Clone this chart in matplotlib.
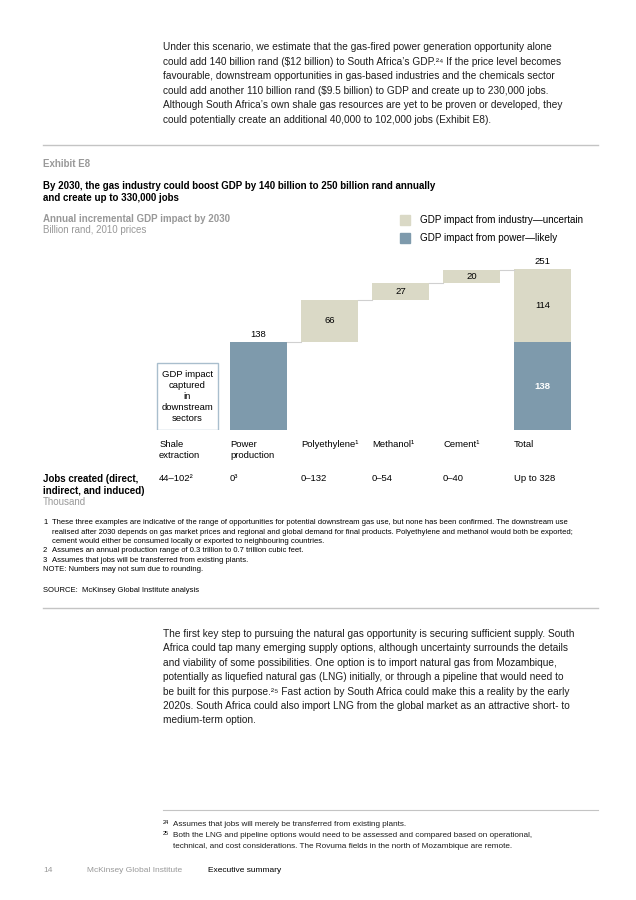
import matplotlib.pyplot as plt
from matplotlib.lines import Line2D
from matplotlib.patches import Rectangle

plt.rcParams['font.family'] = ['Liberation Sans', 'DejaVu Sans']

W, H = 636, 900

# Данные диаграммы (млрд рэндов, цены 2010 г.)
categories = ["Shale\nextraction", "Power\nproduction", "Polyethylene¹", "Methanol¹", "Cement¹", "Total"]
power_gdp = 138
industry_steps = [66, 27, 20]          # Polyethylene, Methanol, Cement
total_power = 138
total_industry = 114
total_gdp = 251
jobs = ["44–102²", "0³", "0–132", "0–54", "0–40", "Up to 328"]

BLUE = "#7E9AAC"
BEIGE = "#DAD9C6"
GREY = "#999999"
LINE = "#C4C4C4"

para1 = [
    "Under this scenario, we estimate that the gas-fired power generation opportunity alone",
    "could add 140 billion rand ($12 billion) to South Africa’s GDP.²⁴ If the price level becomes",
    "favourable, downstream opportunities in gas-based industries and the chemicals sector",
    "could add another 110 billion rand ($9.5 billion) to GDP and create up to 230,000 jobs.",
    "Although South Africa’s own shale gas resources are yet to be proven or developed, they",
    "could potentially create an additional 40,000 to 102,000 jobs (Exhibit E8).",
]
para2 = [
    "The first key step to pursuing the natural gas opportunity is securing sufficient supply. South",
    "Africa could tap many emerging supply options, although uncertainty surrounds the details",
    "and viability of some possibilities. One option is to import natural gas from Mozambique,",
    "potentially as liquefied natural gas (LNG) initially, or through a pipeline that would need to",
    "be built for this purpose.²⁵ Fast action by South Africa could make this a reality by the early",
    "2020s. South Africa could also import LNG from the global market as an attractive short- to",
    "medium-term option.",
]
notes = [
    ("1", "These three examples are indicative of the range of opportunities for potential downstream gas use, but none has been confirmed. The downstream use"),
    ("", "realised after 2030 depends on gas market prices and regional and global demand for final products. Polyethylene and methanol would both be exported;"),
    ("", "cement would either be consumed locally or exported to neighbouring countries."),
    ("2", "Assumes an annual production range of 0.3 trillion to 0.7 trillion cubic feet."),
    ("3", "Assumes that jobs will be transferred from existing plants."),
]
page_notes = [
    ("24", "Assumes that jobs will merely be transferred from existing plants."),
    ("25", "Both the LNG and pipeline options would need to be assessed and compared based on operational,"),
    ("", "technical, and cost considerations. The Rovuma fields in the north of Mozambique are remote."),
]


def fx(x):
    return x / W


def fy(y):
    return 1 - y / H


fig = plt.figure(figsize=(W / 100, H / 100), dpi=100, facecolor="white")


def txt(x, y, s, **kw):
    kw.setdefault("va", "center")
    kw.setdefault("parse_math", False)
    return fig.text(fx(x), fy(y), s, **kw)


def hline(x0, x1, y, color=LINE, lw=1.0):
    fig.add_artist(Line2D([fx(x0), fx(x1)], [fy(y), fy(y)], color=color, lw=lw))


# Текст над графиком
for i, line in enumerate(para1):
    txt(163, 47 + i * 14.6, line, fontsize=7.3, color="#1e1e1e")
hline(43, 598, 145)

txt(43, 164, "Exhibit E8", fontsize=7.0, fontweight="bold", color=GREY)
txt(43, 186, "By 2030, the gas industry could boost GDP by 140 billion to 250 billion rand annually",
    fontsize=7.0, fontweight="bold", color="black")
txt(43, 198, "and create up to 330,000 jobs", fontsize=7.0, fontweight="bold", color="black")
txt(43, 219, "Annual incremental GDP impact by 2030", fontsize=7.0, fontweight="bold", color=GREY)
txt(43, 230, "Billion rand, 2010 prices", fontsize=7.0, color=GREY)

# Легенда
for y, col, lab in [(220, BEIGE, "GDP impact from industry—uncertain"),
                    (238, BLUE, "GDP impact from power—likely")]:
    fig.add_artist(Rectangle((fx(400), fy(y + 5)), fx(10), 10 / H, color=col,
                             transform=fig.transFigure))
    txt(420, y, lab, fontsize=7.1, color="black")

# Водопадная диаграмма
px_per_unit = 88 / 138
ax = fig.add_axes([fx(150), fy(430), fx(430), 180 / H])
ax.set_xlim(-0.528, 5.528)
ax.set_ylim(0, 180 / px_per_unit)
ax.axis("off")
bw = 0.8
off = 12.5

# Сланцевый газ: рамка с текстом
ax.add_patch(Rectangle((-0.43, 0), 0.86, 105, facecolor="white", edgecolor="#A9BECD", lw=1.0))
ax.text(0, 52.5, "GDP impact\ncaptured\nin\ndownstream\nsectors", ha="center", va="center",
        fontsize=6.8, linespacing=1.3)

# Энергетика
ax.bar(1, power_gdp, width=bw, color=BLUE)
ax.text(1, power_gdp + off, str(power_gdp), ha="center", va="center", fontsize=6.8)

# Промышленность
level = power_gdp
for i, v in enumerate(industry_steps):
    ax.plot([1 + i + bw / 2, 2 + i - bw / 2], [level, level], color="#D0D0D0", lw=0.8)
    ax.bar(2 + i, v, bottom=level, width=bw, color=BEIGE)
    ax.text(2 + i, level + v / 2, str(v), ha="center", va="center", fontsize=6.8)
    level += v
ax.plot([4 + bw / 2, 5 - bw / 2], [level, level], color="#D0D0D0", lw=0.8)

# Итого
ax.bar(5, total_power, width=bw, color=BLUE)
ax.bar(5, total_industry, bottom=total_power, width=bw, color=BEIGE)
ax.text(5, total_power / 2, str(total_power), ha="center", va="center", fontsize=6.8,
        color="white", fontweight="bold")
ax.text(5, total_power + total_industry / 2, str(total_industry), ha="center", va="center", fontsize=6.8)
ax.text(5, total_gdp + off, str(total_gdp), ha="center", va="center", fontsize=6.8)

# Подписи категорий и рабочие места
for i, (cat, job) in enumerate(zip(categories, jobs)):
    ax.text(i - bw / 2, -16, cat, ha="left", va="top", fontsize=6.8, linespacing=1.25, clip_on=False)
    ax.text(i - bw / 2, -76.8, job, ha="left", va="center", fontsize=6.8, clip_on=False)

txt(43, 479, "Jobs created (direct,", fontsize=7.0, fontweight="bold")
txt(43, 491, "indirect, and induced)", fontsize=7.0, fontweight="bold")
txt(43, 502, "Thousand", fontsize=7.0, color=GREY)

# Примечания
for i, (num, line) in enumerate(notes):
    y = 523 + i * 9.3
    if num:
        txt(43, y, num, fontsize=5.5)
    txt(52.5, y, line, fontsize=5.5)
txt(43, 523 + 5 * 9.3, "NOTE: Numbers may not sum due to rounding.", fontsize=5.5)
txt(43, 591, "SOURCE:  McKinsey Global Institute analysis", fontsize=5.5)
hline(43, 598, 608)

# Текст под графиком
for i, line in enumerate(para2):
    txt(163, 634 + i * 14.4, line, fontsize=7.3, color="#1e1e1e")

hline(163, 598, 810, lw=0.8)
for i, (num, line) in enumerate(page_notes):
    y = 824 + i * 11.2
    if num:
        txt(163, y - 2, num, fontsize=4.0)
    txt(173, y, line, fontsize=5.9, color="#1e1e1e")

txt(43, 870, "14", fontsize=6.0, color=GREY)
txt(87, 870, "McKinsey Global Institute", fontsize=6.0, color=GREY)
txt(208, 870, "Executive summary", fontsize=6.0, color="black")

fig.savefig("out.png", dpi=100, facecolor="white")
